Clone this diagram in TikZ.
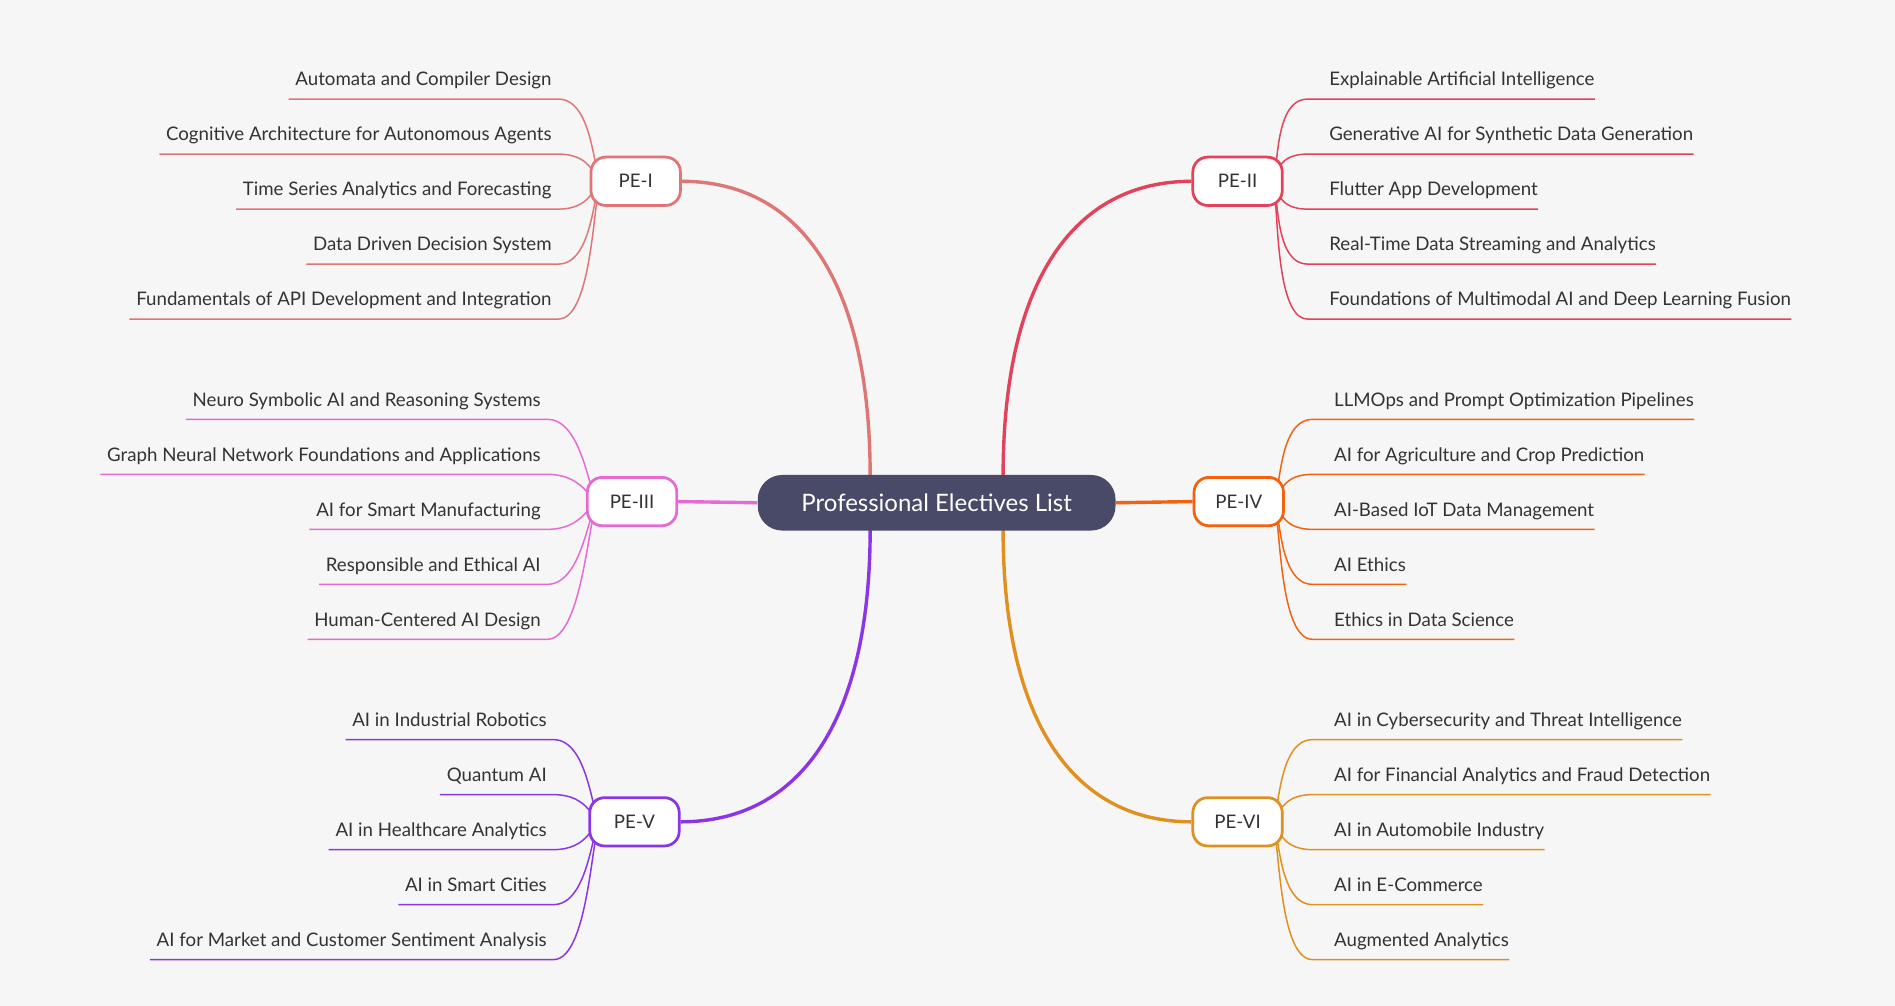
\documentclass[tikz,border=0pt]{standalone}
\usepackage{fontspec}
\setmainfont{Lato}
\usetikzlibrary{calc, positioning, backgrounds}
\definecolor{bgc}{HTML}{F6F6F6}
\definecolor{rootc}{HTML}{484A68}
\definecolor{ca}{HTML}{DF7676}
\definecolor{cb}{HTML}{E2425A}
\definecolor{cc}{HTML}{E56BD3}
\definecolor{cd}{HTML}{F2620F}
\definecolor{ce}{HTML}{8A35E6}
\definecolor{cf}{HTML}{DF9020}
\definecolor{txt}{HTML}{333333}
\tikzset{
    root node/.style={rectangle, rounded corners=11.5pt, fill=rootc, text=white,
        minimum width=296*0.02cm, minimum height=46*0.02cm, font=\fontsize{11.3}{13}\selectfont},
    branch node/.style={rectangle, rounded corners=7pt, draw, line width=1.3pt, fill=white, text=txt,
        minimum width=74*0.02cm, minimum height=40*0.02cm, font=\fontsize{8.8}{10}\selectfont},
    leaf node/.style={inner xsep=3pt, inner ysep=0pt, text height=7pt, text depth=6pt, text=txt,
        font=\fontsize{8.8}{10}\selectfont},
    main edge/.style={line width=1.6pt},
    leaf edge/.style={line width=0.7pt}
}
\begin{document}
\begin{tikzpicture}[x=0.02cm, y=-0.02cm]
\useasboundingbox (0,0) rectangle (1568,832);
% center
\node[root node] (root) at (775,416) {Professional Electives List};
% branches
\node[branch node, draw=ca] (pe1) at (526,150) {PE-I};
\node[branch node, draw=cb] (pe2) at (1024,150) {PE-II};
\node[branch node, draw=cc] (pe3) at (523,415) {PE-III};
\node[branch node, draw=cd] (pe4) at (1025,415) {PE-IV};
\node[branch node, draw=ce] (pe5) at (525,680) {PE-V};
\node[branch node, draw=cf] (pe6) at (1024,680) {PE-VI};
\begin{scope}[on background layer]
\fill[bgc] (0,0) rectangle (1568,832);
\draw[main edge, ca] (720,394) .. controls (720,230) and (660,150) .. (pe1.east);
\draw[main edge, cb] (830,394) .. controls (830,230) and (890,150) .. (pe2.west);
\draw[main edge, cc] (root.west) -- (pe3.east);
\draw[main edge, cd] (root.east) -- (pe4.west);
\draw[main edge, ce] (720,438) .. controls (720,600) and (660,680) .. (pe5.east);
\draw[main edge, cf] (830,438) .. controls (830,600) and (890,680) .. (pe6.west);
\end{scope}
% left leaves
\foreach \pn/\col/\xr/\ys/\names in {
    pe1/ca/462/82/{Automata and Compiler Design,Cognitive Architecture for Autonomous Agents,Time Series Analytics and Forecasting,Data Driven Decision System,Fundamentals of API Development and Integration},
    pe3/cc/453/347/{Neuro Symbolic AI and Reasoning Systems,Graph Neural Network Foundations and Applications,AI for Smart Manufacturing,Responsible and Ethical AI,Human-Centered AI Design},
    pe5/ce/458/612/{AI in Industrial Robotics,Quantum AI,AI in Healthcare Analytics,AI in Smart Cities,AI for Market and Customer Sentiment Analysis}}{
  \foreach \nm [count=\i] in \names {
    \node[leaf node, anchor=south east] (\pn l\i) at (\xr,{\ys+(\i-1)*45.5}) {\nm};
    \begin{scope}[on background layer]
    \draw[leaf edge, \col] (\pn l\i.south west) -- (\pn l\i.south east)
        .. controls +(30,0) and ($(\pn.center)+(-35,0)$) .. ($(\pn.center)+(-28,0)$);
    \end{scope}
  }
}
% right leaves
\foreach \pn/\col/\xl/\ys/\names in {
    pe2/cb/1082/82/{Explainable Artificial Intelligence,Generative AI for Synthetic Data Generation,Flutter App Development,Real-Time Data Streaming and Analytics,Foundations of Multimodal AI and Deep Learning Fusion},
    pe4/cd/1086/347/{LLMOps and Prompt Optimization Pipelines,AI for Agriculture and Crop Prediction,AI-Based IoT Data Management,AI Ethics,Ethics in Data Science},
    pe6/cf/1086/612/{AI in Cybersecurity and Threat Intelligence,AI for Financial Analytics and Fraud Detection,AI in Automobile Industry,AI in E-Commerce,Augmented Analytics}}{
  \foreach \nm [count=\i] in \names {
    \node[leaf node, anchor=south west, inner xsep=0pt] (\pn l\i) at (\xl,{\ys+(\i-1)*45.5}) {\hspace{10pt}\nm\hspace{3pt}};
    \begin{scope}[on background layer]
    \draw[leaf edge, \col] (\pn l\i.south east) -- (\pn l\i.south west)
        .. controls +(-30,0) and ($(\pn.center)+(35,0)$) .. ($(\pn.center)+(28,0)$);
    \end{scope}
  }
}
\end{tikzpicture}
\end{document}
